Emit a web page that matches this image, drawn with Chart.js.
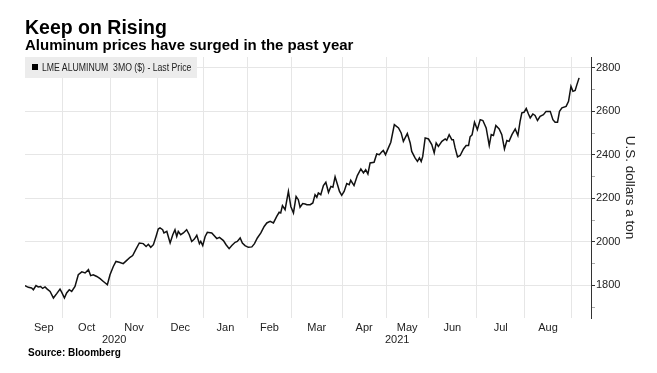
<!DOCTYPE html>
<html>
<head>
<meta charset="utf-8">
<script src="https://cdn.jsdelivr.net/npm/chart.js@4/dist/chart.umd.min.js"></script>
<style>
  body { margin: 0; background: #fff; overflow: hidden; }
  #wrap { position: relative; width: 657px; height: 373px; font-family: "Liberation Sans", Arial, sans-serif; color: #000; }
  canvas { position: absolute; left: 0; top: 0; }
  .title { position: absolute; left: 25px; top: 18px; font-size: 19.5px; line-height: 19.5px; font-weight: bold; white-space: nowrap; }
  .subtitle { position: absolute; left: 25px; top: 37px; font-size: 15px; line-height: 15px; font-weight: bold; white-space: nowrap; }
  .legend { position: absolute; left: 25px; top: 57px; width: 172px; height: 21px; background: #ececec; }
  .legend .mark { position: absolute; left: 7px; top: 7px; width: 6px; height: 6px; background: #000; }
  .legend .txt { position: absolute; left: 17px; top: 5px; font-size: 10px; line-height: 11px; color: #222; white-space: nowrap; transform: scaleX(0.87); transform-origin: left top; }
  .source { position: absolute; left: 28px; top: 348px; font-size: 10px; line-height: 10px; font-weight: bold; white-space: nowrap; }
</style>
</head>
<body>
<div id="wrap">
  <canvas id="chart" width="657" height="373"></canvas>
  <div class="title">Keep on Rising</div>
  <div class="subtitle">Aluminum prices have surged in the past year</div>
  <div class="legend"><div class="mark"></div><div class="txt">LME ALUMINUM&nbsp; 3MO ($) - Last Price</div></div>
  <div class="source">Source: Bloomberg</div>
</div>
<script>
// x = trading day since the start of the window (early Sep 2020)
const days = [
  0, 1.5, 3.0, 3.8, 5.0, 6.0, 7.1, 8.0, 9.1, 10.1, 11.4, 12.9, 14.4, 15.9, 16.7, 17.9, 18.9, 20.1, 21.2, 22.7,
  24.2, 25.8, 27.3, 28.8, 29.8, 31.0, 32.6, 34.1, 35.6, 37.4, 38.6, 40.1, 41.3, 42.8, 44.6, 46.2, 47.7, 48.9, 50.4, 51.9,
  53.7, 55.0, 56.0, 57.1, 58.3, 59.5, 60.5, 61.3, 62.5, 63.1, 64.4, 65.9, 67.1, 68.1, 68.9, 69.6, 70.7, 71.9, 73.4, 74.6,
  75.7, 76.9, 78.0, 79.2, 79.8, 80.7, 81.8, 82.8, 84.8, 87.1, 88.3, 90.1, 91.3, 92.7, 93.9, 95.4, 96.4, 97.7, 98.7, 99.9,
  101.4, 103.0, 104.2, 105.5, 107.1, 108.6, 109.8, 111.3, 112.8, 114.3, 115.4, 116.1, 116.9, 118.1, 119.6, 120.7, 121.9, 123.1, 124.1, 124.9,
  126.1, 127.2, 128.0, 129.5, 130.7, 131.7, 132.5, 133.2, 134.3, 135.5, 136.6, 137.8, 138.9, 139.8, 140.8, 141.9, 142.8, 143.8, 144.9, 146.1,
  147.2, 147.9, 149.4, 150.9, 152.5, 153.7, 154.7, 155.7, 156.7, 158.5, 159.7, 160.9, 162.0, 162.7, 163.7, 165.0, 166.1, 167.7, 169.6, 170.8,
  171.8, 172.6, 173.6, 174.9, 175.6, 177.1, 178.2, 179.1, 179.9, 180.6, 181.7, 183.2, 184.7, 185.8, 186.7, 187.7, 189.3, 190.8, 191.5, 192.6,
  193.8, 194.5, 195.3, 196.4, 197.6, 199.1, 200.3, 201.4, 202.1, 203.0, 204.1, 205.4, 206.7, 207.9, 209.4, 210.8, 211.7, 212.7, 213.8, 215.3,
  216.5, 217.7, 218.8, 219.8, 221.1, 222.6, 223.8, 224.8, 225.6, 226.6, 227.6, 228.6, 229.4, 230.6, 231.6, 232.7, 233.9, 235.4, 236.6, 238.5,
  239.7, 240.7, 241.8, 242.7, 243.8, 245.7, 246.8, 247.9, 248.8, 249.8, 250.6, 251.6
];
const prices = [
  1799, 1791, 1788, 1780, 1799, 1793, 1795, 1786, 1793, 1783, 1772, 1742, 1762, 1783, 1768, 1742, 1765, 1780, 1772, 1795,
  1849, 1862, 1857, 1872, 1845, 1849, 1841, 1831, 1818, 1803, 1849, 1887, 1910, 1906, 1900, 1915, 1929, 1937, 1967, 1995,
  1992, 1979, 1989, 1975, 1987, 2025, 2059, 2064, 2056, 2041, 2048, 1995, 2033, 2056, 2025, 2048, 2033, 2041, 2056, 2033,
  2002, 2013, 2030, 1992, 2002, 1983, 2025, 2044, 2041, 2015, 2021, 2006, 1987, 1969, 1983, 1998, 2002, 2018, 1995, 1983,
  1975, 1977, 1992, 2018, 2041, 2071, 2087, 2094, 2087, 2117, 2136, 2133, 2167, 2148, 2232, 2163, 2133, 2209, 2194, 2159,
  2176, 2174, 2171, 2171, 2179, 2217, 2205, 2225, 2217, 2259, 2274, 2228, 2255, 2251, 2299, 2263, 2232, 2214, 2232, 2268,
  2263, 2283, 2259, 2305, 2335, 2317, 2332, 2312, 2363, 2366, 2404, 2401, 2414, 2420, 2401, 2432, 2458, 2539, 2524, 2501,
  2462, 2478, 2498, 2455, 2416, 2386, 2370, 2386, 2370, 2393, 2478, 2473, 2447, 2409, 2455, 2439, 2462, 2473, 2467, 2493,
  2470, 2470, 2432, 2391, 2397, 2427, 2443, 2443, 2483, 2492, 2550, 2516, 2562, 2558, 2524, 2443, 2493, 2489, 2535, 2519,
  2493, 2427, 2466, 2462, 2493, 2519, 2489, 2554, 2593, 2596, 2613, 2588, 2570, 2588, 2581, 2558, 2577, 2585, 2600, 2600,
  2562, 2550, 2550, 2600, 2616, 2623, 2646, 2715, 2692, 2696, 2723, 2754
];

// trading-day index of the first day of each month, Oct 2020 .. Sep 2021
const monthStarts = [17, 39, 60, 81, 101, 121, 144, 164, 183, 205, 227, 248];
const monthNames = ["Sep", "Oct", "Nov", "Dec", "Jan", "Feb", "Mar", "Apr", "May", "Jun", "Jul", "Aug"];
const yearNames = ["2020", "2021"];
const yTicks = [1700, 1800, 1900, 2000, 2100, 2200, 2300, 2400, 2500, 2600, 2700, 2800];

const xMin = 0, xMax = 257;
const FONT = "'Liberation Sans', Arial, sans-serif";

// month labels sit in the middle of each visible month span, years likewise
const bounds = [xMin].concat(monthStarts);
const monthMids = monthNames.map((m, i) => (bounds[i] + bounds[i + 1]) / 2);
const yearMids = [(xMin + monthStarts[3]) / 2, (monthStarts[3] + xMax) / 2];

// month / year labels under the plot, placed with the x scale
const periodLabels = {
    id: "periodLabels",
    afterDraw(chart) {
        const ctx = chart.ctx;
        const xs = chart.scales.x;
        const base = chart.chartArea.bottom;
        ctx.save();
        ctx.font = "11px " + FONT;
        ctx.fillStyle = "#222";
        ctx.textAlign = "center";
        ctx.textBaseline = "middle";
        monthNames.forEach((m, i) => ctx.fillText(m, xs.getPixelForValue(monthMids[i]), base + 10));
        yearNames.forEach((y, i) => ctx.fillText(y, xs.getPixelForValue(yearMids[i]), base + 22));
        ctx.restore();
    }
};

new Chart(document.getElementById("chart"), {
    type: "line",
    data: {
        datasets: [{
            data: days.map((d, i) => ({ x: d, y: prices[i] })),
            borderColor: "#111",
            borderWidth: 1.5,
            pointRadius: 0,
            tension: 0,
            fill: false
        }]
    },
    options: {
        responsive: false,
        animation: false,
        devicePixelRatio: 1,
        layout: { padding: { left: 25, top: 57, right: 0, bottom: 55 } },
        plugins: { legend: { display: false }, tooltip: { enabled: false } },
        scales: {
            x: {
                type: "linear", min: xMin, max: xMax,
                afterBuildTicks: (s) => { s.ticks = monthStarts.map(v => ({ value: v })); },
                afterFit: (s) => { s.height = 0; },
                ticks: { display: false },
                grid: { color: "#e6e6e6", lineWidth: 1, drawTicks: false },
                border: { display: false }
            },
            y: {
                position: "right", min: 1650, max: 2850,
                afterBuildTicks: (s) => { s.ticks = yTicks.map(v => ({ value: v })); },
                afterFit: (s) => { s.width = 66; },
                grid: {
                    color: (c) => c.tick && c.tick.value % 200 === 0 ? "#e6e6e6" : "rgba(0,0,0,0)",
                    tickColor: (c) => c.tick && c.tick.value % 200 === 0 ? "#333" : "#aaa",
                    tickLength: 4
                },
                border: { display: true, color: "#333", width: 1 },
                ticks: {
                    padding: 1, color: "#222",
                    font: { family: FONT, size: 11 },
                    callback: (v) => v % 200 === 0 ? String(v) : ""
                },
                title: {
                    display: true, text: "U.S. dollars a ton", color: "#222",
                    font: { family: FONT, size: 13.5 },
                    padding: { top: 19, bottom: 0 }
                }
            }
        }
    },
    plugins: [periodLabels]
});
</script>
</body>
</html>
